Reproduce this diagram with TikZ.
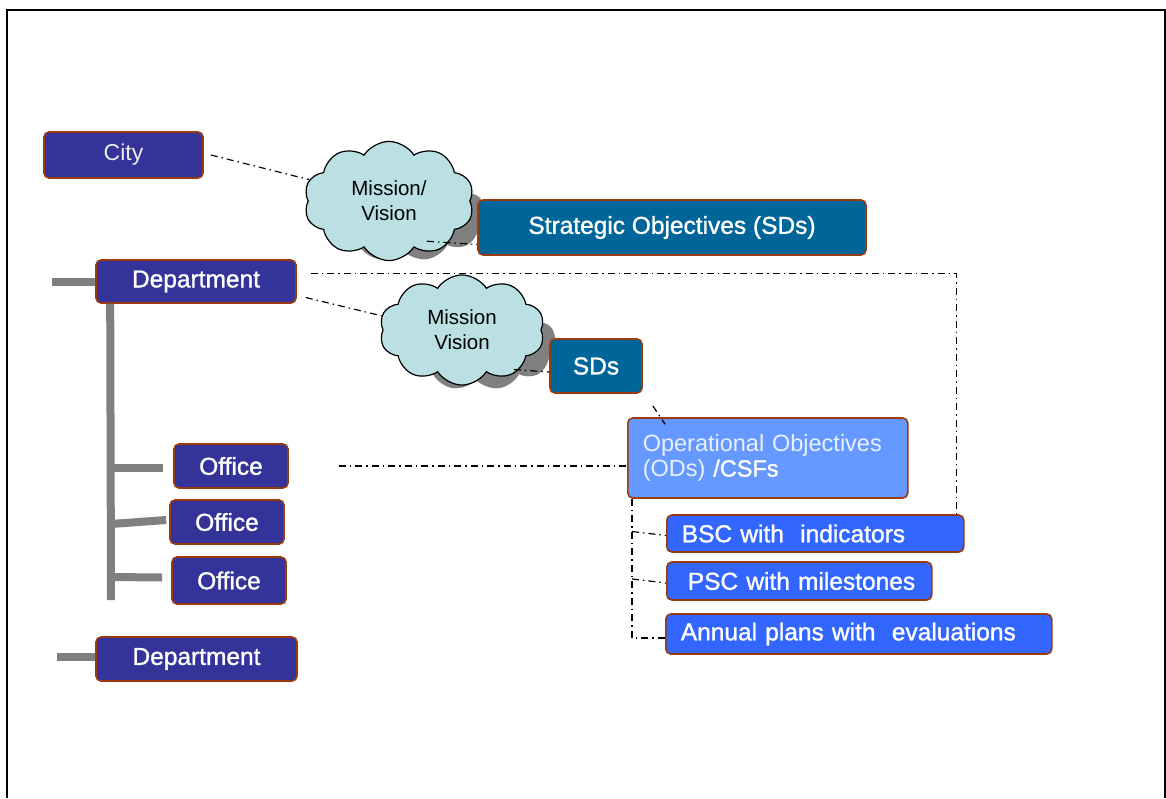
\documentclass[tikz,border=0pt]{standalone}
\usepackage{fontspec}
\setmainfont{Liberation Sans}
\newfontfamily\boxfont[FakeBold=1.2]{Liberation Sans}
\usetikzlibrary{shapes.symbols,calc}

\definecolor{unitblue}{HTML}{333399}
\definecolor{edgebrown}{HTML}{9A3A10}
\definecolor{sdteal}{HTML}{006699}
\definecolor{odblue}{HTML}{6699FF}
\definecolor{toolblue}{HTML}{3366FF}
\definecolor{cloudfill}{HTML}{BBE0E3}
\definecolor{barcol}{HTML}{808080}

\tikzset{
  unit/.style={draw=edgebrown, line width=1.6pt, fill=unitblue, rounded corners=5pt,
    text=white, inner sep=0pt, font=\boxfont\fontsize{24.5}{25}\selectfont},
  sdbox/.style={unit, fill=sdteal},
  toolbox/.style={unit, fill=toolblue, anchor=west, align=left},
  mv/.style={cloud, cloud puffs=10, cloud puff arc=115, draw=black, line width=1.2pt,
    fill=cloudfill, inner sep=0pt, align=center, font=\fontsize{20.5}{25}\selectfont},
  mvshadow/.style={cloud, cloud puffs=11, cloud puff arc=110, fill=barcol, draw=none},
  dd/.style={black, line width=1.2pt, dash pattern=on 7pt off 4pt on 1.5pt off 4pt},
  bar/.style={barcol, line width=8pt}
}

\begin{document}
\begin{tikzpicture}[x=1pt,y=-1pt]
  \useasboundingbox (0,0) rectangle (1166,798);
  \draw[line width=2pt] (7,798) -- (7,10) -- (1165,10) -- (1165,798);

  % clouds (shadow first)
  \node[mvshadow, minimum width=168, minimum height=90] at (403,216) {};
  \node[mvshadow, minimum width=163, minimum height=90] at (476,345) {};

  \node[unit, minimum width=159, minimum height=46,
        font=\fontsize{23}{25}\selectfont, text=white!85!gray] (city) at (123.5,155) {City};
  \node[mv, minimum width=170, minimum height=88] (mv1) at (389,201) {Mission/\\Vision};
  \node[sdbox, minimum width=388, minimum height=55] (strat) at (672,227.5) {Strategic Objectives (SDs)};

  \node[unit, minimum width=200, minimum height=43] (dep1) at (196,281.5) {Department};
  \node[mv, minimum width=165, minimum height=90] (mv2) at (462,330) {Mission\\Vision};
  \node[sdbox, minimum width=92, minimum height=54] (sds) at (596,366) {SDs};

  \node[unit, minimum width=114, minimum height=44] (off1) at (231,466) {Office};
  \node[unit, minimum width=114, minimum height=44] (off2) at (227,522) {Office};
  \node[unit, minimum width=114, minimum height=47] (off3) at (229,580.5) {Office};
  \node[unit, minimum width=201, minimum height=44] (dep2) at (196.5,659) {Department};

  \node[unit, fill=odblue, minimum width=280, minimum height=80, anchor=west,
        align=left, text width=250, inner xsep=15, font=\fontsize{23.5}{25}\selectfont,
        text=white!85!odblue] (op) at (627,458)
        {Operational Objectives\\(ODs) {\boxfont\color{white}/CSFs}};

  \node[toolbox, minimum height=37, text width=267, inner xsep=15] (bsc) at (666,533.5) {BSC with\ \ indicators};
  \node[toolbox, minimum height=38, text width=237, inner xsep=14] (psc) at (666,581) {\hspace*{7pt}PSC with milestones};
  \node[toolbox, minimum height=40, text width=356, inner xsep=15] (ann) at (665,634) {Annual plans with\ \ evaluations};

  % organisation bars
  \coordinate (trunk) at (111,600);
  \draw[bar] ($(dep1.west)+(-43,0)$) -- (dep1.west);
  \draw[bar] ($(dep1.south west)+(15,0)$) -- (trunk);
  \draw[bar] (111,468) -- ($(off1.west)+(-10,2)$);
  \draw[bar] (111,524) -- ($(off2.west)+(-3,-2)$);
  \draw[bar] (111,577) -- ($(off3.west)+(-9,-3)$);
  \draw[bar] ($(dep2.west)+(-38,-2)$) -- ($(dep2.west)+(0,-2)$);

  % dash-dot links
  \coordinate (spine) at ($(op.south west)+(5,0)$);
  \draw[dd] ($(city.east)+(7,0)$) -- (mv1.165);
  \draw[dd] ($(mv1.-60)+(10,-8)$) -- ($(strat.west)+(0,17)$);
  \draw[dd] ($(dep1.east)+(14,-8)$) -| ($(bsc.north east)+(-8,0)$);
  \draw[dd] ($(dep1.east)+(9,16)$) -- (mv2.170);
  \draw[dd] ($(mv2.-40)+(0,-4)$) -- ($(sds.west)+(0,6)$);
  \draw[dd] ($(sds.south east)+(10,12)$) -- ($(op.north west)+(38,7)$);
  \draw[dd] ($(off1.east)+(50,0)$) -- (op.west |- off1.east);
  \draw[dd] (spine) |- ($(ann.west)+(0,4)$);
  \draw[dd] ($(spine |- bsc.west)+(0,-2)$) -- ($(bsc.west)+(0,2)$);
  \draw[dd] ($(spine |- psc.west)+(0,-2)$) -- ($(psc.west)+(0,2)$);
\end{tikzpicture}
\end{document}
